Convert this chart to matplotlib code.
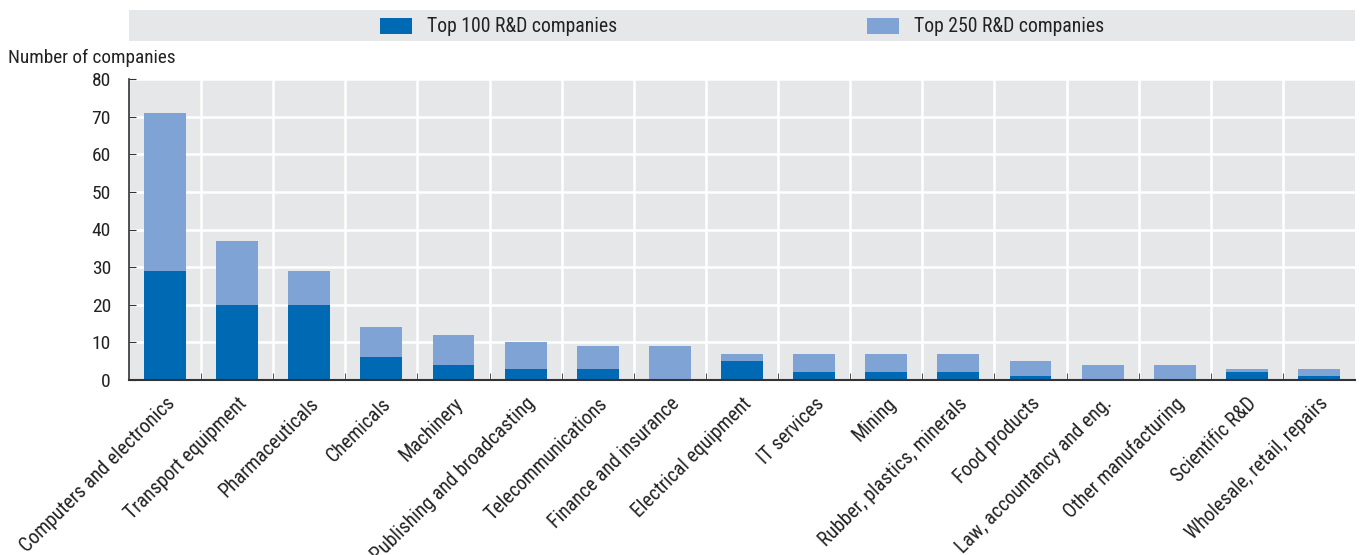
import matplotlib
matplotlib.use("Agg")
import matplotlib.pyplot as plt
from matplotlib.patches import Rectangle
from matplotlib import font_manager

categories = ["Computers and electronics", "Transport equipment", "Pharmaceuticals",
              "Chemicals", "Machinery", "Publishing and broadcasting", "Telecommunications",
              "Finance and insurance", "Electrical equipment", "IT services", "Mining",
              "Rubber, plastics, minerals", "Food products", "Law, accountancy and eng.",
              "Other manufacturing", "Scientific R&D", "Wholesale, retail, repairs"]
top100 = [29, 20, 20, 6, 4, 3, 3, 0, 5, 2, 2, 2, 1, 0, 0, 2, 1]
top250 = [71, 37, 29, 14, 12, 10, 9, 9, 7, 7, 7, 7, 5, 4, 4, 3, 3]
yticks = [0, 10, 20, 30, 40, 50, 60, 70, 80]
legend_labels = ["Top 100 R&D companies", "Top 250 R&D companies"]

names = {f.name for f in font_manager.fontManager.ttflist}
narrow = None
for cand in ["Liberation Sans Narrow", "Roboto Condensed", "Open Sans Condensed", "DejaVu Sans Condensed"]:
    if cand in names:
        narrow = cand
        break
if narrow is not None:
    plt.rcParams['font.family'] = [narrow, "DejaVu Sans"]
    fs_tick, fs_x, fs_leg, fs_ylab = 14, 14.3, 14.2, 13.9
else:
    plt.rcParams['font.family'] = ["Liberation Sans", "DejaVu Sans"]
    fs_tick, fs_x, fs_leg, fs_ylab = 12.5, 12.5, 12, 12

DARK = "#0069b4"
LIGHT = "#7fa3d5"
BG = "#e6e7e9"
TXT = "#222222"

W, H = 1362, 555
fig = plt.figure(figsize=(W / 100, H / 100), dpi=100)
ax = fig.add_axes([129 / W, 1 - 380 / H, (1355 - 129) / W, (380 - 79) / H])
ax.set_facecolor(BG)

x = list(range(len(categories)))
ax.bar(x, top250, width=0.58, color=LIGHT, zorder=3)
ax.bar(x, top100, width=0.58, color=DARK, zorder=4)

ax.set_xlim(-0.5, len(categories) - 0.5)
ax.set_ylim(0, 80)
ax.set_yticks(yticks)
ax.yaxis.grid(True, color="white", linewidth=1.8, zorder=1)
for b in range(len(categories) - 1):
    ax.axvline(b + 0.5, color="white", linewidth=1.8, zorder=1)

for s in ["top", "right"]:
    ax.spines[s].set_visible(False)
ax.spines["left"].set_color("#333333")
ax.spines["bottom"].set_color("#333333")
ax.spines["bottom"].set_linewidth(1.5)
ax.spines["left"].set_linewidth(1.2)
ax.spines["bottom"].set_zorder(5)

ax.tick_params(axis="y", direction="in", length=5, color="#333333", labelsize=fs_tick,
               labelcolor=TXT, pad=13)
ax.set_xticks([b + 0.5 for b in range(len(categories) - 1)], minor=True)
ax.set_xticks(x)
ax.tick_params(axis="x", which="minor", direction="in", length=5, color="#333333")
ax.tick_params(axis="x", which="major", length=0, pad=10)
ax.set_xticklabels(categories, rotation=45, ha="right", rotation_mode="anchor",
                   fontsize=fs_x, color=TXT)

fig.text(8 / W, 1 - 58 / H, "Number of companies", fontsize=fs_ylab, color=TXT,
         va="center", ha="left")

# Legend band
fig.patches.append(Rectangle((129 / W, 1 - 41 / H), (1355 - 129) / W, 31 / H,
                             transform=fig.transFigure, facecolor=BG, edgecolor="none"))
for px, col, lab in [(380, DARK, legend_labels[0]), (867, LIGHT, legend_labels[1])]:
    fig.patches.append(Rectangle((px / W, 1 - 34 / H), 32 / W, 16 / H,
                                 transform=fig.transFigure, facecolor=col, edgecolor="none"))
    fig.text((px + 47) / W, 1 - 26 / H, lab, fontsize=fs_leg, color=TXT, va="center", ha="left")

fig.savefig("out.png", dpi=100)
